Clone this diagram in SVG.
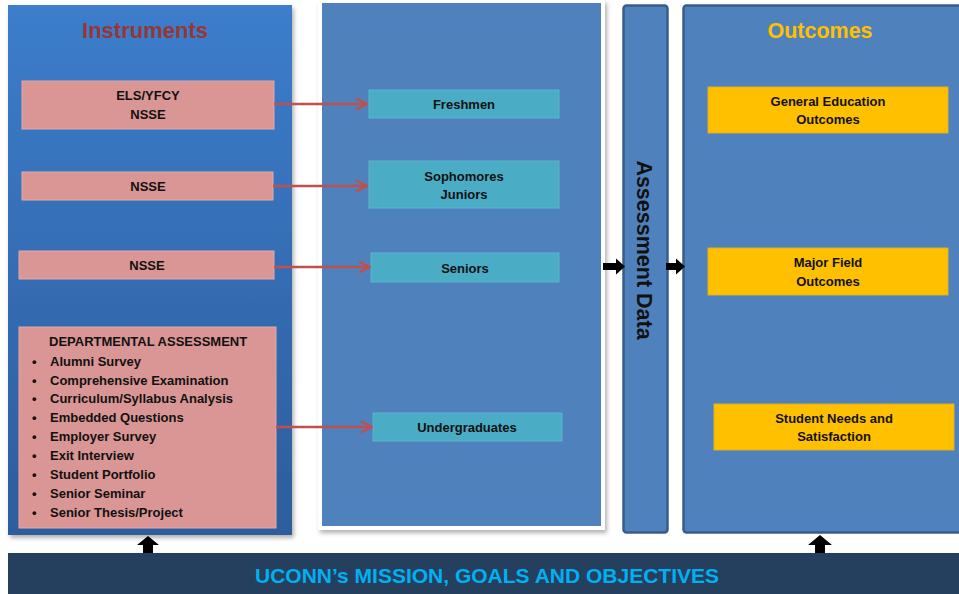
<svg xmlns="http://www.w3.org/2000/svg" width="959" height="594" viewBox="0 0 959 594">
<defs>
<linearGradient id="gl" x1="0" y1="0" x2="0" y2="1">
<stop offset="0" stop-color="#3c7dcc"/>
<stop offset="1" stop-color="#2d5d9c"/>
</linearGradient>
<filter id="sh" x="-5%" y="-5%" width="115%" height="115%">
<feDropShadow dx="2" dy="3" stdDeviation="2" flood-color="#000" flood-opacity="0.3"/>
</filter>
<marker id="ra" viewBox="0 0 14 14" refX="13" refY="7" markerWidth="14" markerHeight="14" markerUnits="userSpaceOnUse" orient="auto">
<path d="M2,1.5 L13,7 L2,12.5" fill="none" stroke="#c0504d" stroke-width="2.4"/>
</marker>
<style>
.t{font-family:"Liberation Sans",Arial,sans-serif;font-weight:bold;fill:#111;}
.pink{fill:#d99694;stroke:#e6a8a6;stroke-width:1;}
.teal{fill:#4bacc6;stroke:#5ab6cc;stroke-width:1;}
.yel{fill:#ffc000;stroke:#e0b020;stroke-width:1;}
.blk{fill:#000;}
.con{stroke:#c0504d;stroke-width:2.5;fill:none;}
</style>
</defs>
<rect width="959" height="594" fill="#fff"/>

<g id="instruments">
<rect x="8" y="5" width="284" height="530" fill="url(#gl)" filter="url(#sh)"/>
<text x="145" y="38" text-anchor="middle" font-family="Liberation Sans,Arial,sans-serif" font-weight="bold" font-size="22" fill="#953735">Instruments</text>
</g>

<g id="groups-panel">
<rect x="318" y="0" width="287" height="530" fill="#fff" filter="url(#sh)"/>
<rect x="322" y="3" width="279" height="523" fill="#4f81bd"/>
</g>

<g id="assessment-data">
<rect x="623.5" y="5.5" width="44" height="527" rx="3" fill="#4f81bd" stroke="#385d8a" stroke-width="2.5"/>
<text class="t" transform="translate(637 250) rotate(90)" text-anchor="middle" font-size="21.5" fill="#111">Assessment Data</text>
</g>

<g id="outcomes">
<rect x="683.5" y="5.5" width="280" height="527" rx="3" fill="#4f81bd" stroke="#385d8a" stroke-width="2.5"/>
<text x="820" y="38" text-anchor="middle" font-family="Liberation Sans,Arial,sans-serif" font-weight="bold" font-size="21.5" fill="#ffc000">Outcomes</text>
</g>

<g id="mission">
<rect x="8" y="553" width="951" height="41" fill="#253f5f"/>
<text x="487" y="583" text-anchor="middle" font-family="Liberation Sans,Arial,sans-serif" font-weight="bold" font-size="21" fill="#00b0f0">UCONN’s MISSION, GOALS AND OBJECTIVES</text>
</g>

<g id="inst-els">
<rect class="pink" x="22" y="81" width="252" height="48"/>
<text class="t" x="148" y="100" text-anchor="middle" font-size="13">ELS/YFCY</text>
<text class="t" x="148" y="119" text-anchor="middle" font-size="13">NSSE</text>
</g>
<g id="inst-nsse1">
<rect class="pink" x="22" y="172" width="251" height="28"/>
<text class="t" x="148" y="190.5" text-anchor="middle" font-size="13">NSSE</text>
</g>
<g id="inst-nsse2">
<rect class="pink" x="19" y="251" width="255" height="28"/>
<text class="t" x="147" y="269.5" text-anchor="middle" font-size="13">NSSE</text>
</g>
<g id="inst-dept">
<rect class="pink" x="19" y="327" width="257" height="201"/>
<text class="t" x="49" y="346" font-size="13">DEPARTMENTAL ASSESSMENT</text>
<g class="t" font-size="13">
<text x="32" y="366">•</text><text x="50" y="366">Alumni Survey</text>
<text x="32" y="385">•</text><text x="50" y="385">Comprehensive Examination</text>
<text x="32" y="403">•</text><text x="50" y="403">Curriculum/Syllabus Analysis</text>
<text x="32" y="422">•</text><text x="50" y="422">Embedded Questions</text>
<text x="32" y="441">•</text><text x="50" y="441">Employer Survey</text>
<text x="32" y="460">•</text><text x="50" y="460">Exit Interview</text>
<text x="32" y="479">•</text><text x="50" y="479">Student Portfolio</text>
<text x="32" y="498">•</text><text x="50" y="498">Senior Seminar</text>
<text x="32" y="517">•</text><text x="50" y="517">Senior Thesis/Project</text>
</g>
</g>

<g id="grp-freshmen">
<rect class="teal" x="369" y="90" width="190" height="28"/>
<text class="t" x="464" y="108.5" text-anchor="middle" font-size="13">Freshmen</text>
</g>
<g id="grp-soph">
<rect class="teal" x="369" y="161" width="190" height="47"/>
<text class="t" x="464" y="181" text-anchor="middle" font-size="13">Sophomores</text>
<text class="t" x="464" y="199" text-anchor="middle" font-size="13">Juniors</text>
</g>
<g id="grp-seniors">
<rect class="teal" x="371" y="253" width="188" height="29"/>
<text class="t" x="465" y="272.5" text-anchor="middle" font-size="13">Seniors</text>
</g>
<g id="grp-under">
<rect class="teal" x="373" y="413" width="189" height="28"/>
<text class="t" x="467" y="432" text-anchor="middle" font-size="13">Undergraduates</text>
</g>

<g id="out-gen">
<rect class="yel" x="708" y="87" width="240" height="46"/>
<text class="t" x="828" y="106" text-anchor="middle" font-size="13">General Education</text>
<text class="t" x="828" y="124" text-anchor="middle" font-size="13">Outcomes</text>
</g>
<g id="out-major">
<rect class="yel" x="708" y="248" width="240" height="47"/>
<text class="t" x="828" y="267" text-anchor="middle" font-size="13">Major Field</text>
<text class="t" x="828" y="286" text-anchor="middle" font-size="13">Outcomes</text>
</g>
<g id="out-needs">
<rect class="yel" x="714" y="404" width="240" height="46"/>
<text class="t" x="834" y="423" text-anchor="middle" font-size="13">Student Needs and</text>
<text class="t" x="834" y="441" text-anchor="middle" font-size="13">Satisfaction</text>
</g>

<g id="connectors">
<line class="con" x1="274" y1="104" x2="367" y2="104" marker-end="url(#ra)"/>
<line class="con" x1="273" y1="186" x2="367" y2="186" marker-end="url(#ra)"/>
<line class="con" x1="274" y1="267" x2="370" y2="267" marker-end="url(#ra)"/>
<line class="con" x1="276" y1="427" x2="372" y2="427" marker-end="url(#ra)"/>
<path class="blk" d="M603,263 L616,263 L616,258.5 L625,266.5 L616,274.5 L616,270 L603,270 Z"/>
<path class="blk" d="M666,263 L676,263 L676,258.5 L685,266.5 L676,274.5 L676,270 L666,270 Z"/>
<path class="blk" d="M143,553 L143,545 L137,545 L148,536 L159,545 L153,545 L153,553 Z"/>
<path class="blk" d="M815,553 L815,545 L808,545 L820,535 L832,545 L825,545 L825,553 Z"/>
</g>
</svg>
